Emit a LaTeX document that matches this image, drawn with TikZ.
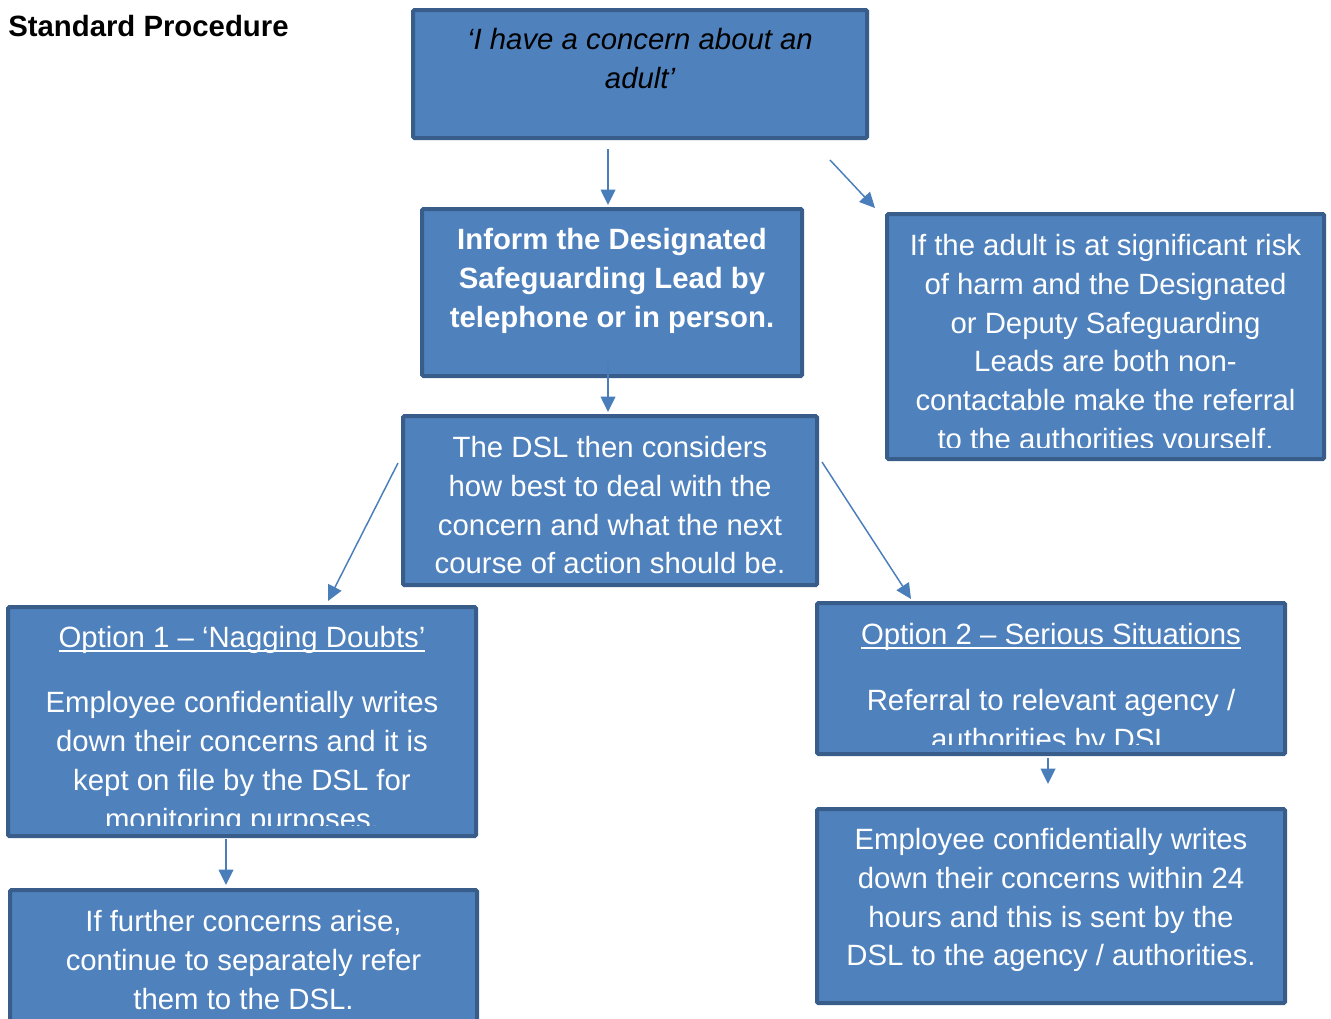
\documentclass[tikz,border=0pt]{standalone}
\usepackage{fontspec}
\setmainfont{Liberation Sans}
\usetikzlibrary{arrows.meta,calc,fit}

\definecolor{boxfill}{HTML}{4F81BD}
\definecolor{boxline}{HTML}{385D8A}
\definecolor{flowblue}{HTML}{4A7EBB}

% underline that runs through the descenders, as in the original
\newcommand{\optunder}[1]{\setbox0\hbox{#1}\rlap{\rule[-3pt]{\wd0}{0.9pt}}\box0}

\begin{document}
\begin{tikzpicture}[x=0.75pt, y=-0.75pt,
  box/.style={draw=boxline, fill=boxfill, line width=3pt, inner sep=0pt, rounded corners=1pt},
  txt/.style={anchor=north, align=center, inner sep=0pt, text=white, font=\fontsize{22}{29.1}\selectfont},
  flow/.style={draw=flowblue, line width=1.1pt, -{Triangle[length=11.5pt,width=11pt]}}]
\useasboundingbox (0,0) rectangle (1331,1018);
\clip (0,0) rectangle (1331,1018);

\node[anchor=base west, inner sep=0pt, font=\fontsize{22}{29.1}\selectfont\bfseries] (title) at (8,36) {Standard Procedure};

% boxes
\node[box, fit={(413,10) (867,138)}] (A) {};
\node[box, fit={(422,209) (802,376)}] (B) {};
\node[box, fit={(887,214) (1324,459)}] (C) {};
\node[box, fit={(403,416) (817,585)}] (D) {};
\node[box, fit={(8,607) (476,836)}] (E) {};
\node[box, fit={(817,603) (1285,754)}] (F) {};
\node[box, fit={(10,890) (477,1040)}] (G) {};
\node[box, fit={(817,809) (1285,1003)}] (H) {};

% texts
\node[txt, text=black, font=\fontsize{22}{29.1}\selectfont\itshape] (At) at (640,28) {‘I have a concern about an\\adult’};
\node[txt, font=\fontsize{22}{29.1}\selectfont\bfseries] (Bt) at (612,228) {Inform the Designated\\Safeguarding Lead by\\telephone or in person.};
\begin{scope}
\clip (C.north west) rectangle ($(C.south east)+(0,-14)$);
\node[txt] (Ct) at (1105.5,234) {If the adult is at significant risk\\of harm and the Designated\\or Deputy Safeguarding\\Leads are both non-\\contactable make the referral\\to the authorities yourself.};
\end{scope}
\node[txt] (Dt) at (610,436) {The DSL then considers\\how best to deal with the\\concern and what the next\\course of action should be.};
\begin{scope}
\clip (E.north west) rectangle ($(E.south east)+(0,-13)$);
\node[txt] (Et) at (242,626) {\optunder{Option 1 – ‘Nagging Doubts’}\\[19.7pt]Employee confidentially writes\\down their concerns and it is\\kept on file by the DSL for\\monitoring purposes.};
\end{scope}
\begin{scope}
\clip (F.north west) rectangle ($(F.south east)+(0,-12)$);
\node[txt] (Ft) at (1051,623) {\optunder{Option 2 – Serious Situations}\\[20.4pt]Referral to relevant agency /\\authorities by DSL};
\end{scope}
\node[txt] (Gt) at (243.5,910) {If further concerns arise,\\continue to separately refer\\them to the DSL.};
\node[txt] (Ht) at (1051,828) {Employee confidentially writes\\down their concerns within 24\\hours and this is sent by the\\DSL to the agency / authorities.};

% arrows
\draw[flow] ($(A.south)+(-32,9)$) -- ($(B.north)+(-4,-2)$);
\draw[flow] ($(A.south east)+(-39,20)$) -- ($(C.north west)+(-10,-4)$);
\draw[flow] ($(B.south)+(-4,-16)$) -- ($(D.north)+(-2,-2)$);
\draw[flow] ($(D.west)+(-3,-37.5)$) -- ($(E.north)+(86,-4)$);
\draw[flow] ($(D.east)+(3,-38.5)$) -- ($(F.north)+(-140,-2)$);
\draw[flow] ($(E.south)+(-16,1)$) -- ($(G.north)+(-17.5,-3)$);
\draw[flow] ($(F.south)+(-3,2)$) -- ($(H.north)+(-3,-23)$);
\end{tikzpicture}
\end{document}
